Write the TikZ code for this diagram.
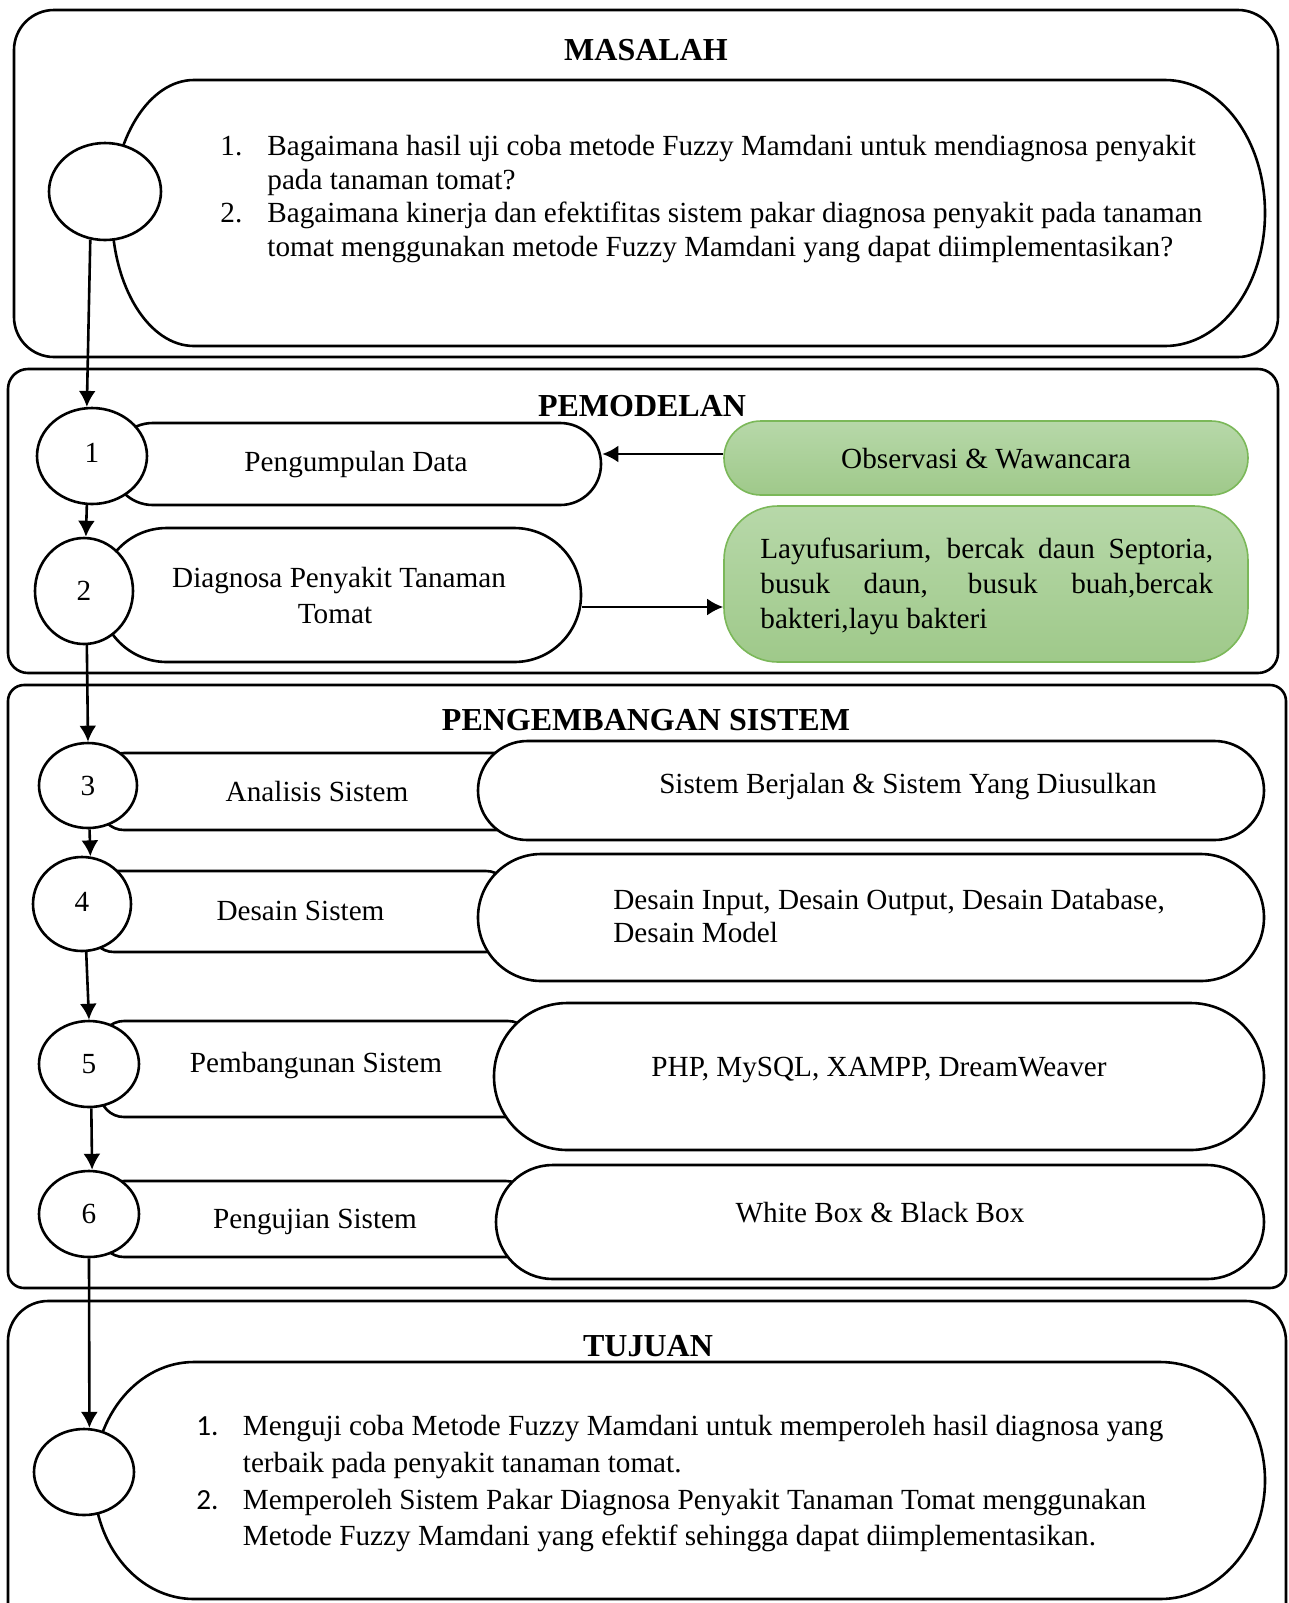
\documentclass[tikz,border=0pt]{standalone}
\usepackage{fontspec}
\setmainfont{Liberation Serif}
\newfontfamily\numfont{Carlito}
\usetikzlibrary{shapes.geometric,arrows.meta,calc}

\definecolor{leafTop}{HTML}{B7D8A9}
\definecolor{leafBot}{HTML}{9FC98A}
\definecolor{leafEdge}{HTML}{7BB859}

\tikzset{
  ln/.style={line width=1.3pt},
  panel/.style={ln, draw=black, rounded corners=#1},
  stage/.style={ellipse, draw, ln, fill=white, inner sep=0pt,
    font=\fontsize{14.6}{17}\selectfont},
  pill/.style={draw, ln, fill=white, inner sep=0pt},
  leaf/.style={draw=leafEdge, line width=0.8pt, top color=leafTop,
    bottom color=leafBot, inner sep=0pt},
  body/.style={font=\fontsize{14.6}{17}\selectfont, inner sep=0pt},
  bw/.style={body, anchor=base west},
  bc/.style={body, anchor=base},
  ttl/.style={font=\bfseries\fontsize{16}{19}\selectfont, inner sep=0pt, anchor=base},
  arr/.style={ln, -{Latex[length=8pt,width=8.5pt]}},
}

\begin{document}
\begin{tikzpicture}[x=0.5pt,y=0.5pt,yscale=-1]
\useasboundingbox (0,0) rectangle (1289,1603);
\clip (0,0) rectangle (1289,1603);
\fill[white] (0,0) rectangle (1289,1603);

% ---------- section frames ----------
\draw[panel=20pt] (14,10) rectangle (1278,357);
\draw[panel=10pt] (8,369) rectangle (1278,673);
\draw[panel=8pt] (8,685) rectangle (1286,1288);
\draw[panel=20pt] (8,1301) rectangle (1286,1660);

% ---------- titles ----------
\node[ttl] (tMasalah) at (646,60) {MASALAH};
\node[ttl] (tModel) at (642,416.5) {PEMODELAN};
\node[ttl] (tDev) at (646,730) {PENGEMBANGAN SISTEM};
\node[ttl] (tGoal) at (648,1356) {TUJUAN};

% ---------- problem statement ----------
\draw[ln] (194,80) -- (1165,80)
  arc[start angle=-90,end angle=90,x radius=100,y radius=133]
  -- (194,346)
  arc[start angle=90,end angle=270,x radius=82,y radius=133] -- cycle;
\node[bw] (q1n) at (220,155.5) {1.};
\node[bw] (q1a) at (267,155.5) {Bagaimana hasil uji coba metode Fuzzy Mamdani untuk mendiagnosa penyakit};
\node[bw] (q1b) at (267,189) {pada tanaman tomat?};
\node[bw] (q2n) at (220,222.5) {2.};
\node[bw] (q2a) at (267,222.5) {Bagaimana kinerja dan efektifitas sistem pakar diagnosa penyakit pada tanaman};
\node[bw] (q2b) at (267,256) {tomat menggunakan metode Fuzzy Mamdani yang dapat diimplementasikan?};

% ---------- goals ----------
\draw[ln] (194,1362) -- (1160,1362)
  arc[start angle=-90,end angle=90,x radius=105,y radius=118.5]
  -- (194,1599)
  arc[start angle=90,end angle=270,x radius=100,y radius=118.5] -- cycle;
\node[bw, font=\numfont\fontsize{14.6}{17}\selectfont] (g1n) at (196,1435) {1.};
\node[bw] (g1a) at (242.5,1435) {Menguji coba Metode Fuzzy Mamdani untuk memperoleh hasil diagnosa yang};
\node[bw] (g1b) at (242.5,1472) {terbaik pada penyakit tanaman tomat.};
\node[bw, font=\numfont\fontsize{14.6}{17}\selectfont] (g2n) at (196,1509) {2.};
\node[bw] (g2a) at (242.5,1509) {Memperoleh Sistem Pakar Diagnosa Penyakit Tanaman Tomat menggunakan};
\node[bw] (g2b) at (242.5,1545) {Metode Fuzzy Mamdani yang efektif sehingga dapat diimplementasikan.};

% ---------- step boxes ----------
\node[pill, minimum width=244.5pt, minimum height=41pt, rounded corners=20.4pt] (p1) at (356.5,464) {};
\node[pill, minimum width=240.5pt, minimum height=67pt, rounded corners=33.4pt] (p2) at (340.5,595) {};
\node[pill, minimum width=217pt, minimum height=38.5pt, rounded corners=12pt] (a3) at (317,791.5) {};
\node[pill, minimum width=210pt, minimum height=40.5pt, rounded corners=12pt] (d4) at (300,911.5) {};
\node[pill, minimum width=216pt, minimum height=48pt, rounded corners=12pt] (b5) at (316,1069) {};
\node[pill, minimum width=215pt, minimum height=38pt, rounded corners=12pt] (u6) at (315,1219) {};

% ---------- detail boxes ----------
\node[pill, minimum width=393pt, minimum height=49.5pt, rounded corners=24.7pt] (r3) at (871,790.5) {};
\node[pill, minimum width=393pt, minimum height=63.5pt, rounded corners=31.7pt] (r4) at (871,917.5) {};
\node[pill, minimum width=385pt, minimum height=73.5pt, rounded corners=36.7pt] (r5) at (879,1076.5) {};
\node[pill, minimum width=384pt, minimum height=57pt, rounded corners=28.4pt] (r6) at (880,1222) {};

\node[leaf, minimum width=262pt, minimum height=37pt, rounded corners=18.4pt] (o1) at (986,458) {};
\node[leaf, minimum width=262pt, minimum height=78pt, rounded corners=27pt] (o2) at (986,584) {};

% ---------- box labels ----------
\node[bc] (p1t) at (356,471.5) {Pengumpulan Data};
\node[bc] (o1t) at (986,468) {Observasi \& Wawancara};
\node[bc] (p2t) at (339,587) {Diagnosa Penyakit Tanaman};
\node[bc] (p2u) at (335,623) {Tomat};
\node[bc] (a3t) at (317,801.5) {Analisis Sistem};
\node[bc] (d4t) at (300.5,920.5) {Desain Sistem};
\node[bc] (b5t) at (316,1072.5) {Pembangunan Sistem};
\node[bc] (u6t) at (315,1228) {Pengujian Sistem};
\node[bc] (r3t) at (908,793.5) {Sistem Berjalan \& Sistem Yang Diusulkan};
\node[bw] (r4t) at (613,909.5) {Desain Input, Desain Output, Desain Database,};
\node[bw] (r4u) at (613,942.5) {Desain Model};
\node[bc] (r5t) at (879,1076.5) {PHP, MySQL, XAMPP, DreamWeaver};
\node[bc] (r6t) at (880,1222) {White Box \& Black Box};
\node[bw] (o2a) at (760,558) {\makebox[226.4pt][s]{Layufusarium, bercak daun Septoria,}};
\node[bw] (o2b) at (760,593) {\makebox[226.4pt][s]{busuk daun, busuk buah,bercak}};
\node[bw] (o2c) at (760,628) {bakteri,layu bakteri};

% ---------- numbered stages ----------
\node[stage, minimum width=56pt, minimum height=48.5pt] (m0) at (105,191.5) {};
\node[stage, minimum width=55pt, minimum height=48pt] (c1) at (92,456) {\raisebox{3pt}{1}};
\node[stage, minimum width=49pt, minimum height=53pt] (c2) at (84,591) {2};
\node[stage, minimum width=49pt, minimum height=42.5pt] (c3) at (88,785.5) {3};
\node[stage, minimum width=49pt, minimum height=47pt] (c4) at (82,904) {\raisebox{2pt}{4}};
\node[stage, minimum width=50pt, minimum height=43pt] (c5) at (89,1064) {5};
\node[stage, minimum width=50pt, minimum height=43pt] (c6) at (89,1214) {6};
\node[stage, minimum width=50pt, minimum height=43pt] (t0) at (84,1472) {};

% ---------- connectors ----------
\draw[arr] (m0.253) -- (c1.96);
\draw[arr] (c1.264) -- (c2.88);
\draw[arr] (c2.273) -- (c3.north);
\draw[arr] (c3.272) -- (c4.80);
\draw[arr] (c4.275) -- (c5.north);
\draw[arr] (c5.273) -- (c6.86);
\draw[arr] (c6.south) -- (t0.83);
\coordinate (o1in) at ($(o1.west)+(0,-4)$);
\draw[arr] (o1in) -- (o1in -| p1.east);
\coordinate (p2out) at ($(p2.east)+(0,12)$);
\draw[arr] (p2out) -- (p2out -| o2.west);
\end{tikzpicture}
\end{document}
